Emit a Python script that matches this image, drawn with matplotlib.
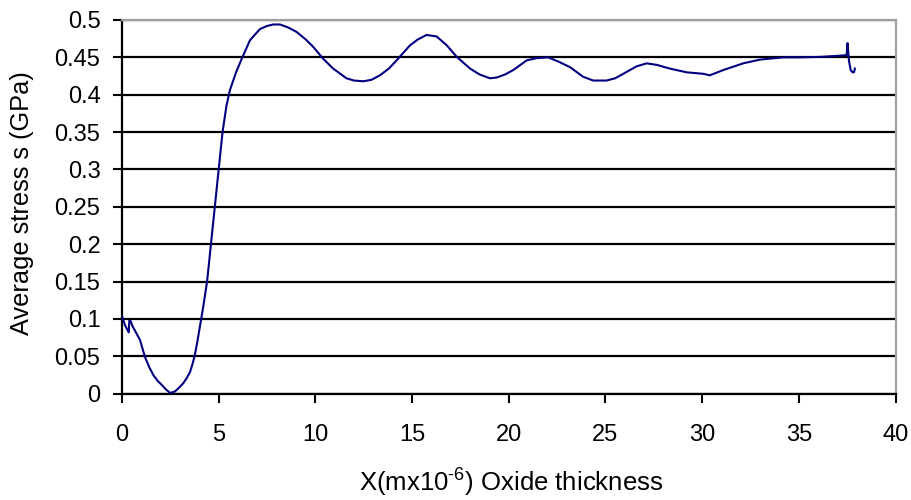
import matplotlib
matplotlib.use("Agg")
import matplotlib.pyplot as plt

plt.rcParams['font.family'] = ['Liberation Sans', 'DejaVu Sans']
plt.rcParams['mathtext.fontset'] = 'custom'
plt.rcParams['mathtext.rm'] = 'Liberation Sans'
plt.rcParams['mathtext.it'] = 'Liberation Sans'

thickness = [0.0, 0.15, 0.35, 0.38, 0.45, 0.55, 0.7, 0.93, 1.19, 1.4, 1.62, 1.85, 2.05, 2.3,
             2.5, 2.74, 2.95, 3.17, 3.35, 3.52, 3.65, 3.77, 3.9, 4.03, 4.2, 4.4, 4.6, 4.8,
             5.0, 5.2, 5.4, 5.58, 5.9, 6.19, 6.62, 7.14, 7.5, 7.82, 8.17, 8.6, 9.03, 9.5,
             9.89, 10.41, 10.92, 11.61, 12.0, 12.48, 12.9, 13.34, 13.8, 14.2, 14.89, 15.3,
             15.75, 16.27, 16.8, 17.3, 18.0, 18.5, 19.03, 19.37, 19.8, 20.23, 20.93, 21.44,
             22.04, 22.6, 23.16, 23.85, 24.37, 25.06, 25.5, 25.92, 26.61, 27.13, 27.65,
             28.33, 29.2, 30.06, 30.4, 31.09, 32.12, 32.99, 34.19, 35.0, 36.09, 37.0, 37.47,
             37.52, 37.59, 37.68, 37.78, 37.85, 37.9]
stress = [0.104, 0.092, 0.082, 0.098, 0.097, 0.090, 0.083, 0.072, 0.049, 0.036, 0.025, 0.017,
          0.012, 0.005, 0.001, 0.003, 0.008, 0.014, 0.021, 0.029, 0.040, 0.052, 0.070, 0.090,
          0.116, 0.150, 0.200, 0.250, 0.300, 0.350, 0.385, 0.406, 0.430, 0.448, 0.473, 0.488,
          0.492, 0.494, 0.494, 0.490, 0.484, 0.474, 0.464, 0.448, 0.435, 0.422, 0.419, 0.418,
          0.420, 0.426, 0.435, 0.446, 0.466, 0.474, 0.480, 0.478, 0.466, 0.451, 0.435, 0.427,
          0.422, 0.423, 0.427, 0.433, 0.446, 0.449, 0.450, 0.444, 0.437, 0.424, 0.419, 0.419,
          0.422, 0.428, 0.438, 0.442, 0.440, 0.435, 0.430, 0.428, 0.426, 0.433, 0.442, 0.447,
          0.450, 0.450, 0.4506, 0.452, 0.453, 0.469, 0.446, 0.433, 0.430, 0.430, 0.435]

x_ticks = [0, 5, 10, 15, 20, 25, 30, 35, 40]
y_ticks = [0, 0.05, 0.1, 0.15, 0.2, 0.25, 0.3, 0.35, 0.4, 0.45, 0.5]
y_tick_labels = ['0', '0.05', '0.1', '0.15', '0.2', '0.25', '0.3', '0.35', '0.4', '0.45', '0.5']

fig = plt.figure(figsize=(9.11, 5.0), dpi=100)
ax = fig.add_axes([0.1339, 0.2126, 0.983 - 0.1339, 0.96 - 0.2126])

ax.plot(thickness, stress, color='#000080', linewidth=1.5, zorder=3)

ax.set_xlim(0, 40)
ax.set_ylim(0, 0.5)
ax.set_xticks(x_ticks)
ax.set_xticklabels([str(t) for t in x_ticks])
ax.set_yticks(y_ticks)
ax.set_yticklabels(y_tick_labels)
ax.yaxis.grid(True, color='black', linewidth=1.6)
ax.set_axisbelow(True)

ax.tick_params(axis='both', direction='out', length=6.5, width=1.5, labelsize=17, colors='black')
ax.tick_params(axis='x', pad=15)
ax.tick_params(axis='y', pad=9)
for s in ['left', 'bottom']:
    ax.spines[s].set_color('black')
    ax.spines[s].set_linewidth(1.6)
for s in ['top', 'right']:
    ax.spines[s].set_color('#a0a0a0')
    ax.spines[s].set_linewidth(1.6)

ax.set_xlabel('X(mx10$^{\\text{-}6}$) Oxide thickness', fontsize=18.5)
ax.set_ylabel('Average stress s (GPa)', fontsize=18.3)
ax.xaxis.set_label_coords(0.503, -0.239)
ax.xaxis.label.set_verticalalignment('center')
ax.yaxis.set_label_coords(-0.129, 0.51)
ax.yaxis.label.set_verticalalignment('center')

fig.savefig('out.png', dpi=100, facecolor='white')
